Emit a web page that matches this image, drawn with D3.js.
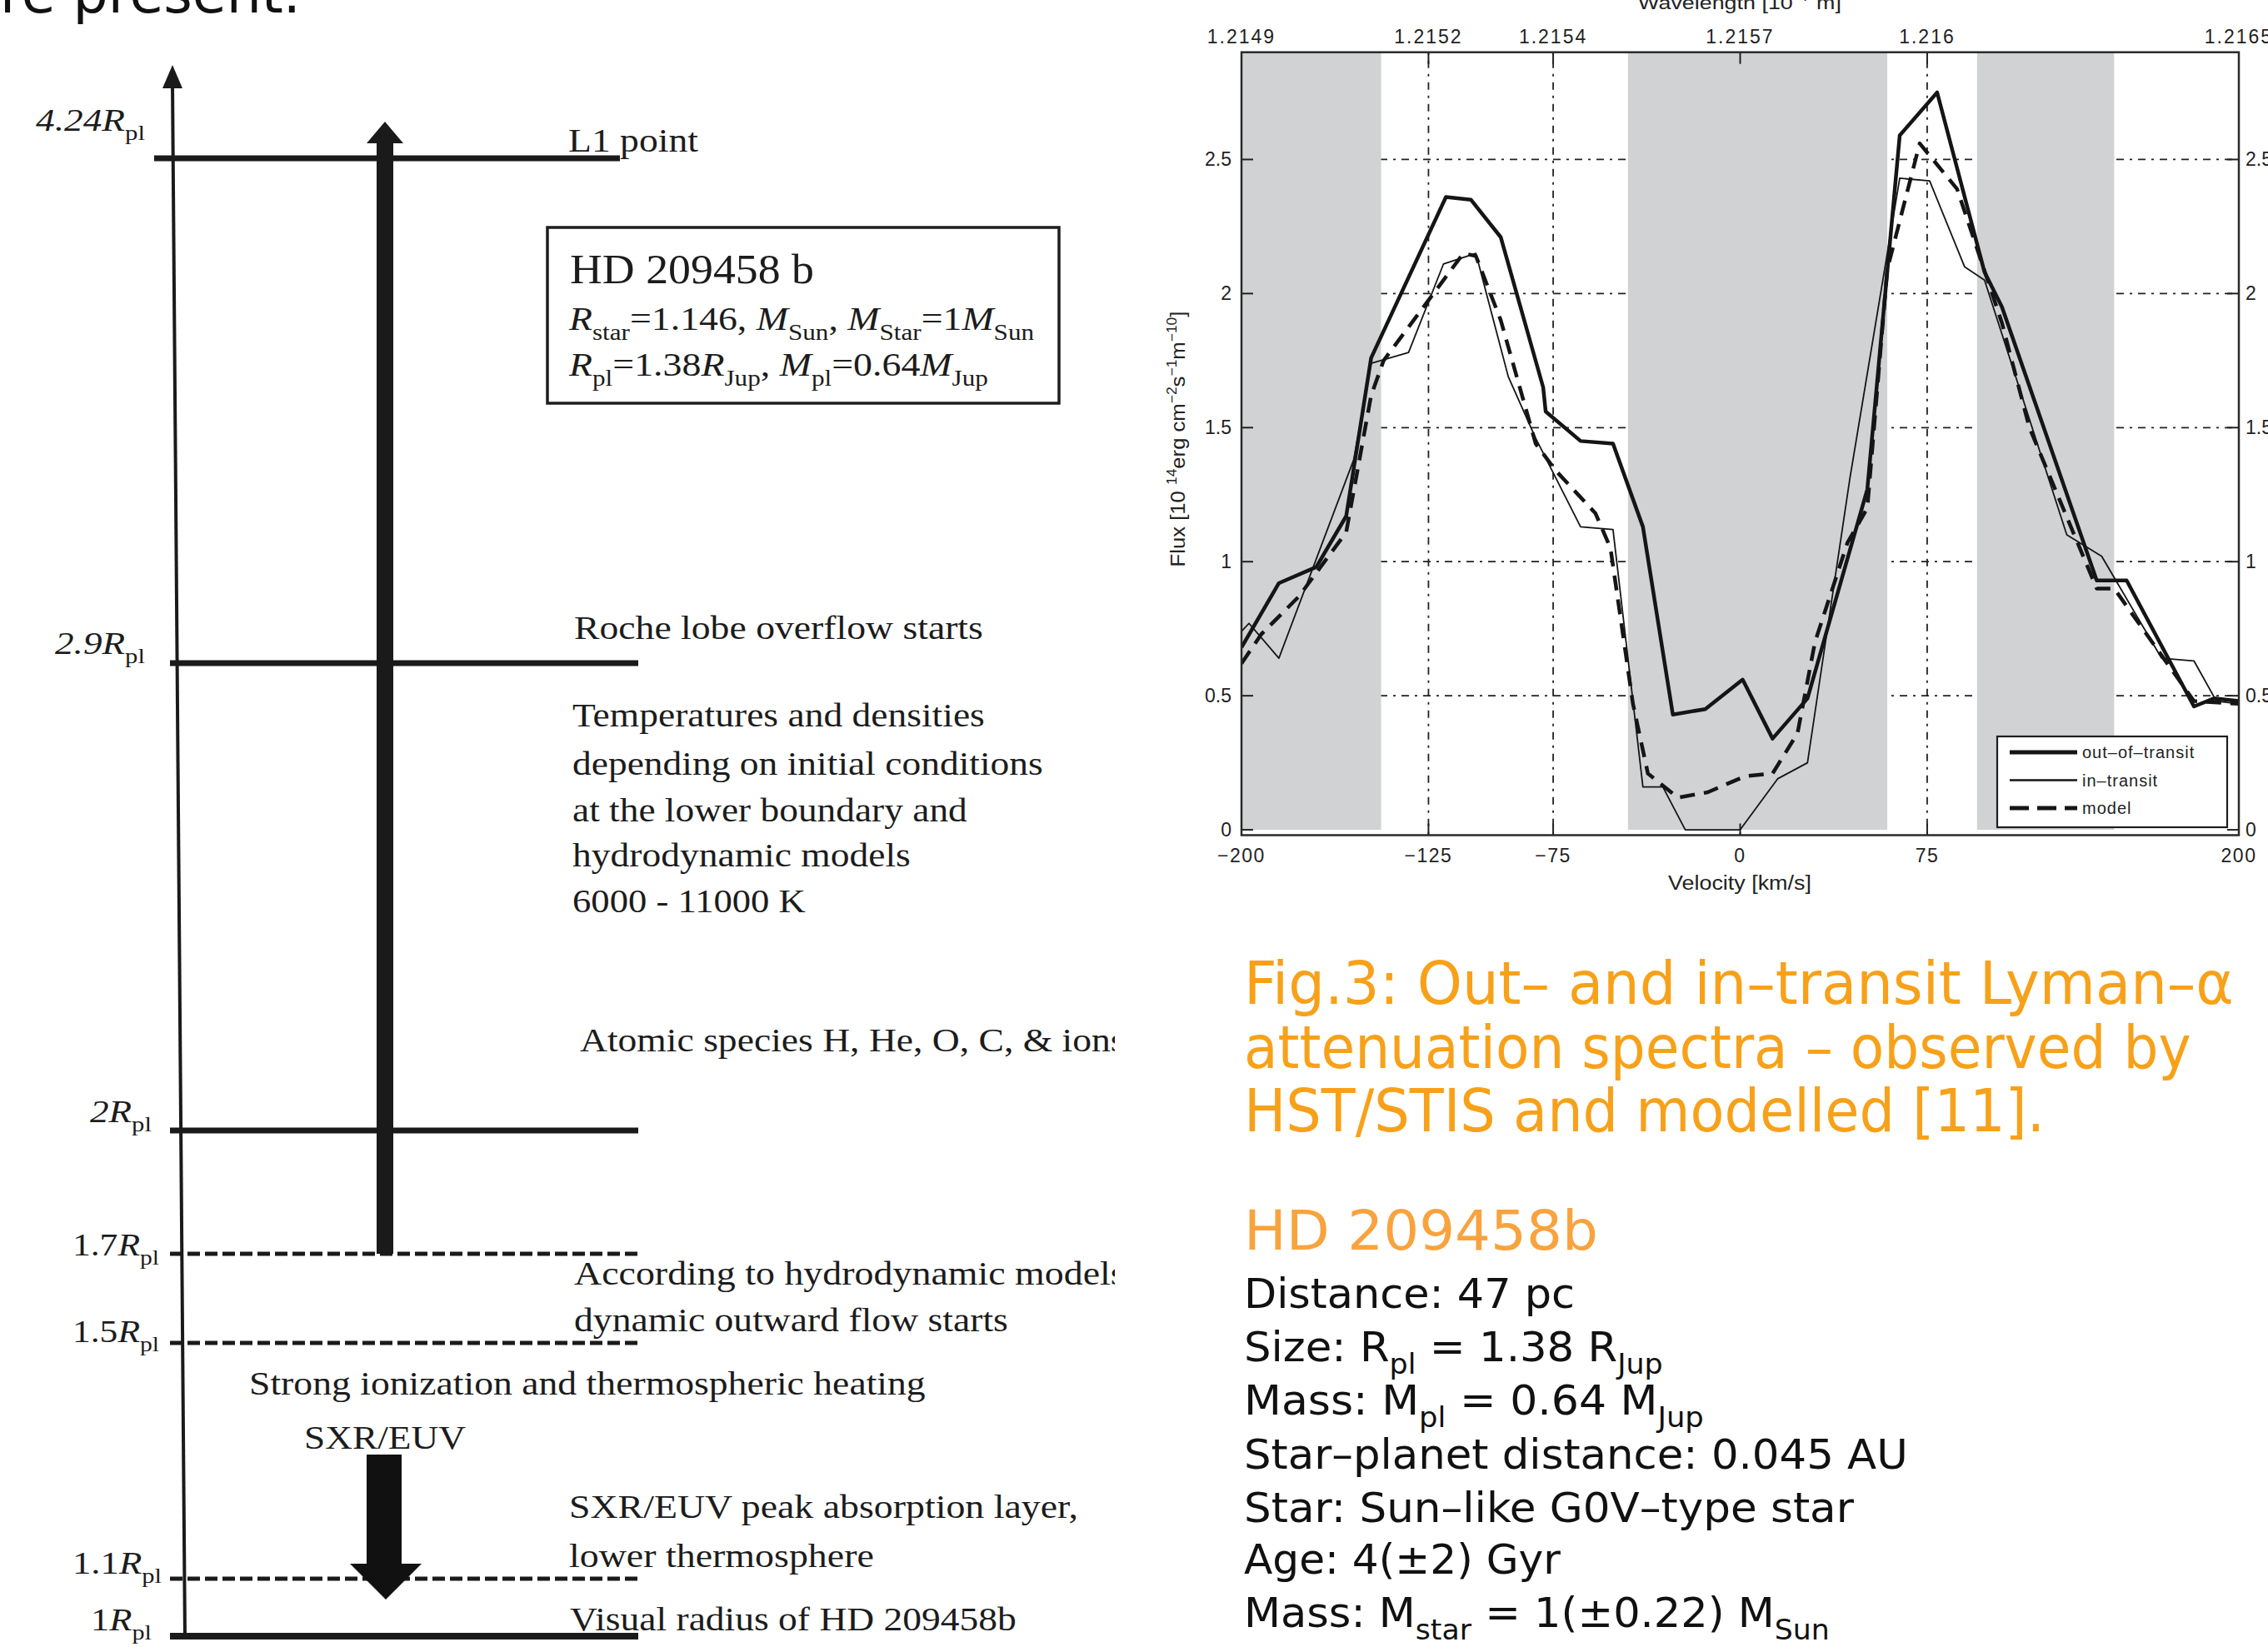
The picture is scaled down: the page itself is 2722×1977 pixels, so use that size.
<!DOCTYPE html>
<html lang="en">
<head>
<meta charset="UTF-8">
<title>HD 209458b - upper atmosphere and Lyman-alpha spectra</title>
<script src="https://d3js.org/d3.v7.min.js"></script>
<style>
    body { margin: 0; background: #fff; }
    svg { display: block; }
    .serif { font-family: "Liberation Serif", "Times New Roman", serif; fill: #1c1c1c; }
    .mat { font-family: "Liberation Sans", Arial, sans-serif; fill: #222; }
    .slide { font-family: "DejaVu Sans Condensed", "DejaVu Sans", sans-serif; }
</style>
</head>
<body>
<script>
    // ---- spectrum data (velocity in km/s, flux in 1e14 erg cm-2 s-1 m-10) ----
    const outVel  = [-200, -185, -170, -158, -148, -118, -108, -96, -79, -78, -64, -51, -39, -27, -14, 1, 13, 27, 51, 64, 79, 98, 105, 143, 155, 182, 190, 200];
    const outFlux = [0.68, 0.92, 0.98, 1.17, 1.76, 2.36, 2.35, 2.21, 1.65, 1.56, 1.45, 1.44, 1.13, 0.43, 0.45, 0.56, 0.34, 0.49, 1.27, 2.59, 2.75, 2.08, 1.95, 0.93, 0.93, 0.46, 0.49, 0.48];

    const inVel  = [-200, -197, -185, -155, -148, -133, -119, -106, -93, -82, -64, -51, -39, -31, -22, 0, 15, 27, 44, 64, 76, 90, 98, 131, 145, 169, 182, 191, 200];
    const inFlux = [0.74, 0.77, 0.64, 1.38, 1.74, 1.78, 2.11, 2.15, 1.69, 1.46, 1.13, 1.12, 0.16, 0.16, 0.0, 0.0, 0.19, 0.25, 1.31, 2.43, 2.42, 2.10, 2.05, 1.10, 1.02, 0.64, 0.63, 0.48, 0.47];

    const modelVel  = [-200, -192, -177, -158, -148, -143, -111, -106, -96, -82, -74, -58, -52, -43, -37, -25, -13, 2, 13, 23, 30, 43, 51, 59, 72, 87, 105, 116, 143, 150, 182, 200];
    const modelFlux = [0.62, 0.73, 0.87, 1.11, 1.62, 1.75, 2.15, 2.14, 1.90, 1.44, 1.34, 1.18, 1.05, 0.47, 0.21, 0.12, 0.14, 0.20, 0.21, 0.36, 0.70, 1.07, 1.20, 2.09, 2.56, 2.39, 1.89, 1.50, 0.90, 0.90, 0.48, 0.47];

    const seriesNames = ["out\u2013of\u2013transit", "in\u2013transit", "model"];

    const bandFrom = [-200, -45, 95];
    const bandTo   = [-144, 59, 150];

    const velTicks   = [-200, -125, -75, 0, 75, 200];
    const velLabels  = ["\u2212200", "\u2212125", "\u221275", "0", "75", "200"];
    const waveLabels = ["1.2149", "1.2152", "1.2154", "1.2157", "1.216", "1.2165"];
    const gridVel    = [-125, -75, 0, 75];
    const fluxTicks  = [0, 0.5, 1, 1.5, 2, 2.5];
    const fluxLabels = ["0", "0.5", "1", "1.5", "2", "2.5"];

    // ---- atmosphere schematic ----
    const radii        = [4.24, 2.9, 2, 1.7, 1.5, 1.1, 1];
    const radiusLabels = ["*4.24R*_{pl}", "*2.9R*_{pl}", "*2R*_{pl}", "1.7*R*_{pl}", "1.5*R*_{pl}", "1.1*R*_{pl}", "1*R*_{pl}"];
    const radiusDashed = [false, false, false, true, true, true, false];

    const W = 2722, H = 1977;
    const svg = d3.select("body").append("svg").attr("width", W).attr("height", H);
    svg.append("rect").attr("width", W).attr("height", H).attr("fill", "#fff");

    // rich text: *italic*, _{sub}, ^{sup}
    function rich(parent, x, y, str, size, cls, anchor) {
        const t = parent.append("text").attr("class", cls).attr("x", x).attr("y", y)
            .attr("font-size", size).attr("text-anchor", anchor || "start");
        const parts = str.split(/(\*[^*]+\*|_\{[^}]*\}|\^\{[^}]*\})/).filter(s => s.length);
        let shift = 0;
        parts.forEach(p => {
            let txt = p, dy = 0, fs = size, italic = false;
            if (p.startsWith("*")) { txt = p.slice(1, -1); italic = true; }
            else if (p.startsWith("_{")) { txt = p.slice(2, -1); dy = size * 0.3; fs = size * 0.68; }
            else if (p.startsWith("^{")) { txt = p.slice(2, -1); dy = -size * 0.42; fs = size * 0.68; }
            const ts = t.append("tspan").attr("dy", dy - shift).attr("font-size", fs).text(txt);
            if (italic) ts.attr("font-style", "italic");
            shift = dy;
        });
        return t;
    }

    // stretch a text horizontally so that it spans w pixels
    function fit(t, w) {
        const ox = +t.attr("x");
        const len = t.node().getComputedTextLength();
        const s = w / len;
        t.attr("transform", `translate(${ox},0) scale(${s},1) translate(${-ox},0)`);
        return t;
    }

    // =============== left: schematic ===============
    const left = svg.append("g");
    svg.append("clipPath").attr("id", "leftClip").append("rect")
        .attr("x", 0).attr("y", 0).attr("width", 1338).attr("height", H);
    left.attr("clip-path", "url(#leftClip)");

    const r = d3.scaleLinear()
        .domain([1, 1.1, 1.5, 1.7, 2, 2.9, 4.24])
        .range([1964, 1895, 1612, 1505, 1357, 796, 190]);

    // radius axis with arrow
    left.append("line").attr("x1", 222).attr("y1", 1968).attr("x2", 207).attr("y2", 100)
        .attr("stroke", "#1a1a1a").attr("stroke-width", 4);
    left.append("path").attr("d", "M207,78 L219,106 L195,106 Z").attr("fill", "#1a1a1a");

    // level lines
    radii.forEach((v, i) => {
        const x0 = i === 0 ? 185 : 204;
        const x1 = i === 0 ? 744 : 766;
        left.append("line")
            .attr("x1", x0).attr("x2", x1)
            .attr("y1", r(v)).attr("y2", r(v))
            .attr("stroke", "#1a1a1a")
            .attr("stroke-width", radiusDashed[i] ? 5 : (v === 1 ? 8 : 7))
            .attr("stroke-dasharray", radiusDashed[i] ? "15,6" : null);
    });

    // level labels
    const labelX = [43, 66, 108, 87, 87, 87, 109];
    const labelW = [131, 108, 74, 104, 104, 107, 73];
    const labelDy = [-33, -11, -10, 2, -1, -6, -7];
    radii.forEach((v, i) => {
        const t = rich(left, labelX[i], r(v) + labelDy[i], radiusLabels[i], 38, "serif");
        t.attr("fill", i < 3 ? "#3a3a3a" : "#1c1c1c");
        fit(t, labelW[i]);
    });

    // thick outflow arrow from 1.7 Rpl up past L1
    left.append("rect").attr("x", 452).attr("y", 168).attr("width", 20).attr("height", r(1.7) - 168)
        .attr("fill", "#1a1a1a");
    left.append("path").attr("d", "M462,146 L484,172 L440,172 Z").attr("fill", "#1a1a1a");

    // SXR/EUV incoming arrow
    left.append("rect").attr("x", 440).attr("y", 1746).attr("width", 42).attr("height", 133)
        .attr("fill", "#111");
    left.append("path").attr("d", "M420,1877 L506,1877 L463,1920 Z").attr("fill", "#111");

    // planet box
    left.append("rect").attr("x", 657).attr("y", 273).attr("width", 614).attr("height", 211)
        .attr("fill", "#fff").attr("stroke", "#1e1e1e").attr("stroke-width", 3.5);
    fit(rich(left, 684, 340, "HD 209458 b", 50, "serif"), 293);
    fit(rich(left, 683, 396, "*R*_{star}=1.146, *M*_{Sun}, *M*_{Star}=1*M*_{Sun}", 40, "serif"), 558);
    fit(rich(left, 683, 451, "*R*_{pl}=1.38*R*_{Jup}, *M*_{pl}=0.64*M*_{Jup}", 40, "serif"), 503);

    const notes = [
        ["L1 point", 682, 182, 156],
        ["Roche lobe overflow starts", 689, 767, 491],
        ["Temperatures and densities", 687, 872, 495],
        ["depending on initial conditions", 687, 930, 565],
        ["at the lower boundary and", 687, 986, 474],
        ["hydrodynamic models", 687, 1040, 406],
        ["6000 - 11000 K", 687, 1095, 280],
        ["Atomic species H, He, O, C, & ions", 696, 1262, 655],
        ["According to hydrodynamic models", 689, 1542, 662],
        ["dynamic outward flow starts", 689, 1598, 521],
        ["Strong ionization and thermospheric heating", 299, 1674, 812],
        ["SXR/EUV", 365, 1739, 194],
        ["SXR/EUV peak absorption layer,", 683, 1822, 611],
        ["lower thermosphere", 683, 1881, 366],
        ["Visual radius of HD 209458b", 684, 1957, 536]
    ];
    notes.forEach(n => fit(rich(left, n[1], n[2], n[0], 40, "serif"), n[3]));

    // =============== right: spectrum plot ===============
    const x = d3.scaleLinear().domain([-200, 200]).range([1490, 2687]);
    const y = d3.scaleLinear().domain([-0.02, 2.9]).range([1002.5, 62.7]);
    const plot = svg.append("g");

    svg.append("clipPath").attr("id", "plotClip").append("rect")
        .attr("x", x(-200)).attr("y", y(2.9)).attr("width", x(200) - x(-200)).attr("height", y(-0.02) - y(2.9));

    // grid (under the shading)
    plot.selectAll(".hgrid").data(fluxTicks.slice(1)).join("line")
        .attr("x1", x(-200)).attr("x2", x(200))
        .attr("y1", d => y(d)).attr("y2", d => y(d))
        .attr("stroke", "#222").attr("stroke-width", 1.8).attr("stroke-dasharray", "3,7,9,7");
    plot.selectAll(".vgrid").data(gridVel).join("line")
        .attr("x1", d => x(d)).attr("x2", d => x(d))
        .attr("y1", y(2.9)).attr("y2", y(-0.02))
        .attr("stroke", "#222").attr("stroke-width", 1.8).attr("stroke-dasharray", "3,7,9,7");

    // shaded velocity bands
    plot.selectAll(".band").data(d3.zip(bandFrom, bandTo)).join("rect")
        .attr("x", d => x(d[0])).attr("width", d => x(d[1]) - x(d[0]))
        .attr("y", y(2.9)).attr("height", y(0) - y(2.9))
        .attr("fill", "#d1d2d4");

    // ticks (inward, all four sides)
    velTicks.forEach(v => {
        plot.append("line").attr("x1", x(v)).attr("x2", x(v)).attr("y1", y(2.9)).attr("y2", y(2.9) + 14)
            .attr("stroke", "#222").attr("stroke-width", 2);
        plot.append("line").attr("x1", x(v)).attr("x2", x(v)).attr("y1", y(-0.02)).attr("y2", y(-0.02) - 14)
            .attr("stroke", "#222").attr("stroke-width", 2);
    });
    fluxTicks.forEach(f => {
        plot.append("line").attr("x1", x(-200)).attr("x2", x(-200) + 14).attr("y1", y(f)).attr("y2", y(f))
            .attr("stroke", "#222").attr("stroke-width", 2);
        plot.append("line").attr("x1", x(200)).attr("x2", x(200) - 14).attr("y1", y(f)).attr("y2", y(f))
            .attr("stroke", "#222").attr("stroke-width", 2);
    });

    // spectra
    const line = d3.line().x(d => x(d[0])).y(d => y(d[1]));
    const lines = plot.append("g").attr("clip-path", "url(#plotClip)");
    const seriesStyle = [
        { w: 4.5, dash: null },
        { w: 1.8, dash: null },
        { w: 4.5, dash: "18,11" }
    ];
    const seriesData = [d3.zip(outVel, outFlux), d3.zip(inVel, inFlux), d3.zip(modelVel, modelFlux)];
    seriesData.forEach((data, i) => {
        lines.append("path").datum(data).attr("d", line)
            .attr("fill", "none").attr("stroke", "#151515")
            .attr("stroke-width", seriesStyle[i].w)
            .attr("stroke-linejoin", "round")
            .attr("stroke-dasharray", seriesStyle[i].dash);
    });

    // legend
    const lg = plot.append("g");
    lg.append("rect").attr("x", 2397).attr("y", 884).attr("width", 276).attr("height", 109)
        .attr("fill", "#fff").attr("stroke", "#1e1e1e").attr("stroke-width", 2.2);
    seriesNames.forEach((name, i) => {
        const ly = 903 + i * 33.5;
        lg.append("line").attr("x1", 2412).attr("x2", 2493).attr("y1", ly).attr("y2", ly)
            .attr("stroke", "#151515").attr("stroke-width", seriesStyle[i].w + 0.5)
            .attr("stroke-dasharray", seriesStyle[i].dash ? "23,10" : null);
        lg.append("text").attr("class", "mat").attr("x", 2499).attr("y", ly + 7)
            .attr("font-size", 20).attr("letter-spacing", 1).text(name);
    });

    // frame
    plot.append("rect").attr("x", x(-200)).attr("y", y(2.9))
        .attr("width", x(200) - x(-200)).attr("height", y(-0.02) - y(2.9))
        .attr("fill", "none").attr("stroke", "#2a2a2a").attr("stroke-width", 2.5);

    // tick labels
    plot.selectAll(".wl").data(velTicks).join("text").attr("class", "mat")
        .attr("x", d => x(d)).attr("y", 52).attr("text-anchor", "middle")
        .attr("font-size", 23).attr("letter-spacing", 2)
        .text((d, i) => waveLabels[i]);
    plot.selectAll(".vl").data(velTicks).join("text").attr("class", "mat")
        .attr("x", d => x(d)).attr("y", 1035).attr("text-anchor", "middle")
        .attr("font-size", 23).attr("letter-spacing", 1.5)
        .text((d, i) => velLabels[i]);
    plot.selectAll(".fl").data(fluxTicks).join("text").attr("class", "mat")
        .attr("x", 1478).attr("y", d => y(d) + 8).attr("text-anchor", "end")
        .attr("font-size", 23).text((d, i) => fluxLabels[i]);
    plot.selectAll(".fr").data(fluxTicks).join("text").attr("class", "mat")
        .attr("x", 2695).attr("y", d => y(d) + 8)
        .attr("font-size", 23).text((d, i) => fluxLabels[i]);

    // axis titles
    fit(rich(plot, 2088, 1068, "Velocity [km/s]", 23, "mat", "middle"), 172);
    fit(rich(plot, 2088, 11, "Wavelength [10^{\u22127} m]", 23, "mat", "middle"), 244);
    const yl = plot.append("g").attr("transform", "translate(1422,527) rotate(-90)");
    fit(rich(yl, 0, 0, "Flux [10 ^{14}erg cm^{\u22122}s^{\u22121}m^{\u221210}]", 24, "mat", "middle"), 307);

    // =============== slide text ===============
    const txt = svg.append("g");
    fit(rich(txt, 0, 15, "re present.", 66, "slide"), 361).attr("fill", "#111");

    const captionLines = [
        "Fig.3: Out\u2013 and in\u2013transit Lyman\u2013\u03b1",
        "attenuation spectra \u2013 observed by",
        "HST/STIS and modelled [11]."
    ];
    const captionY = [1205, 1282, 1358];
    const captionW = [1188, 1137, 961];
    captionLines.forEach((s, i) => {
        fit(rich(txt, 1493, captionY[i], s, 71, "slide"), captionW[i]).attr("fill", "#f7a11a");
    });

    fit(rich(txt, 1493, 1500, "HD 209458b", 66, "slide"), 425).attr("fill", "#f8a33e");

    const facts = [
        "Distance: 47 pc",
        "Size: R_{pl} = 1.38 R_{Jup}",
        "Mass: M_{pl} = 0.64 M_{Jup}",
        "Star\u2013planet distance: 0.045 AU",
        "Star: Sun\u2013like G0V\u2013type star",
        "Age: 4(\u00b12) Gyr",
        "Mass: M_{star} = 1(\u00b10.22) M_{Sun}"
    ];
    const factY = [1570, 1634, 1698, 1763, 1827, 1889, 1953];
    const factW = [397, 503, 552, 797, 732, 380, 703];
    facts.forEach((s, i) => {
        fit(rich(txt, 1493, factY[i], s, 50, "slide"), factW[i]).attr("fill", "#111");
    });
</script>
</body>
</html>
